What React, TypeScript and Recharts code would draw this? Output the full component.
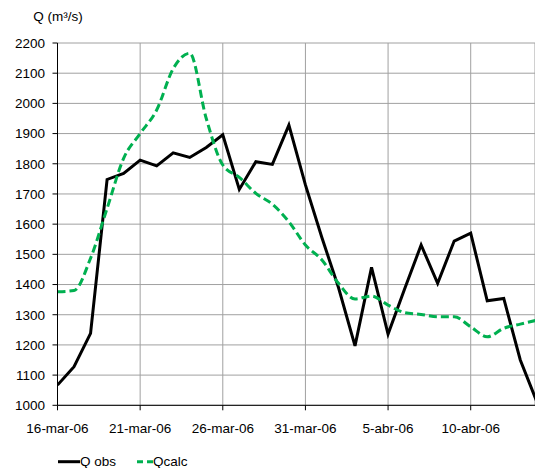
import React from "react";
import { LineChart, Line, XAxis, YAxis, CartesianGrid } from "recharts";

const dates = [
  "16-mar-06", "17-mar-06", "18-mar-06", "19-mar-06", "20-mar-06",
  "21-mar-06", "22-mar-06", "23-mar-06", "24-mar-06", "25-mar-06",
  "26-mar-06", "27-mar-06", "28-mar-06", "29-mar-06", "30-mar-06",
  "31-mar-06", "1-abr-06", "2-abr-06", "3-abr-06", "4-abr-06",
  "5-abr-06", "6-abr-06", "7-abr-06", "8-abr-06", "9-abr-06",
  "10-abr-06", "11-abr-06", "12-abr-06", "13-abr-06", "14-abr-06",
];

const qObs = [
  1067, 1128, 1238, 1748, 1768, 1812, 1793, 1836, 1821, 1854,
  1896, 1715, 1807, 1798, 1928, 1730, 1555, 1390, 1197, 1457,
  1236, 1385, 1531, 1404, 1544, 1570, 1346, 1354, 1150, 1012,
];

const qCalc = [
  1376, 1380, 1487, 1652, 1818, 1900, 1978, 2115, 2166, 1950,
  1796, 1755, 1702, 1666, 1608, 1531, 1481, 1404, 1352, 1362,
  1332, 1307, 1301, 1293, 1293, 1260, 1227, 1255, 1269, 1282,
];

const yTicks = [1000, 1100, 1200, 1300, 1400, 1500, 1600, 1700, 1800, 1900, 2000, 2100, 2200];
const xTicks = [0, 5, 10, 15, 20, 25];

const seriesNames = ["Q obs", "Qcalc"];
const axisTitle = "Q (m³/s)";

const data = dates.map((d, i) => ({ idx: i, date: d, qObs: qObs[i], qCalc: qCalc[i] }));

const FONT = "'Liberation Sans', Arial, sans-serif";
const GREEN = "#00B050";

export default function App() {
  return (
    <div
      style={{
        position: "relative",
        width: 535,
        height: 468,
        overflow: "hidden",
        fontFamily: FONT,
        background: "#fff",
      }}
    >
      <style>{"html,body{margin:0;padding:0;overflow:hidden;}"}</style>
      <LineChart
        width={535}
        height={468}
        data={data}
        margin={{ top: 43, right: 0, bottom: 32.7, left: 0 }}
        style={{ fontFamily: FONT }}
      >
        <CartesianGrid stroke="#a0a0a0" strokeWidth={1} />
        <XAxis
          dataKey="idx"
          type="number"
          domain={[0, 28.89]}
          ticks={xTicks}
          tickFormatter={(v: number) => dates[v]}
          axisLine={{ stroke: "#000", strokeWidth: 1 }}
          tickLine={{ stroke: "#000" }}
          tickSize={5}
          tickMargin={13}
          height={30}
          tick={{ fill: "#000", fontSize: 13.5, fontFamily: FONT }}
          allowDataOverflow
        />
        <YAxis
          type="number"
          domain={[1000, 2200]}
          ticks={yTicks}
          width={57.5}
          axisLine={{ stroke: "#000", strokeWidth: 1 }}
          tickLine={{ stroke: "#000" }}
          tickSize={5}
          tickMargin={7.5}
          tick={{ fill: "#000", fontSize: 13.5, fontFamily: FONT }}
          allowDataOverflow
        />
        <Line
          dataKey="qObs"
          name={seriesNames[0]}
          type="linear"
          stroke="#000"
          strokeWidth={3}
          dot={false}
          activeDot={false}
          isAnimationActive={false}
        />
        <Line
          dataKey="qCalc"
          name={seriesNames[1]}
          type="monotone"
          stroke={GREEN}
          strokeWidth={3}
          strokeDasharray="8 4"
          dot={false}
          activeDot={false}
          isAnimationActive={false}
        />
      </LineChart>
      <svg
        width={535}
        height={468}
        style={{ position: "absolute", left: 0, top: 0, pointerEvents: "none" }}
      >
        <text x={33.3} y={20.5} fontSize={13.5} fontFamily={FONT} fill="#000">
          {axisTitle}
        </text>
        <line x1={58} x2={80} y1={461.7} y2={461.7} stroke="#000" strokeWidth={3} />
        <text x={80} y={466} fontSize={13.5} fontFamily={FONT} fill="#000">
          {seriesNames[0]}
        </text>
        <line
          x1={137}
          x2={153}
          y1={461.7}
          y2={461.7}
          stroke={GREEN}
          strokeWidth={3}
          strokeDasharray="6 4"
        />
        <text x={153} y={466} fontSize={13.5} fontFamily={FONT} fill="#000">
          {seriesNames[1]}
        </text>
      </svg>
    </div>
  );
}
